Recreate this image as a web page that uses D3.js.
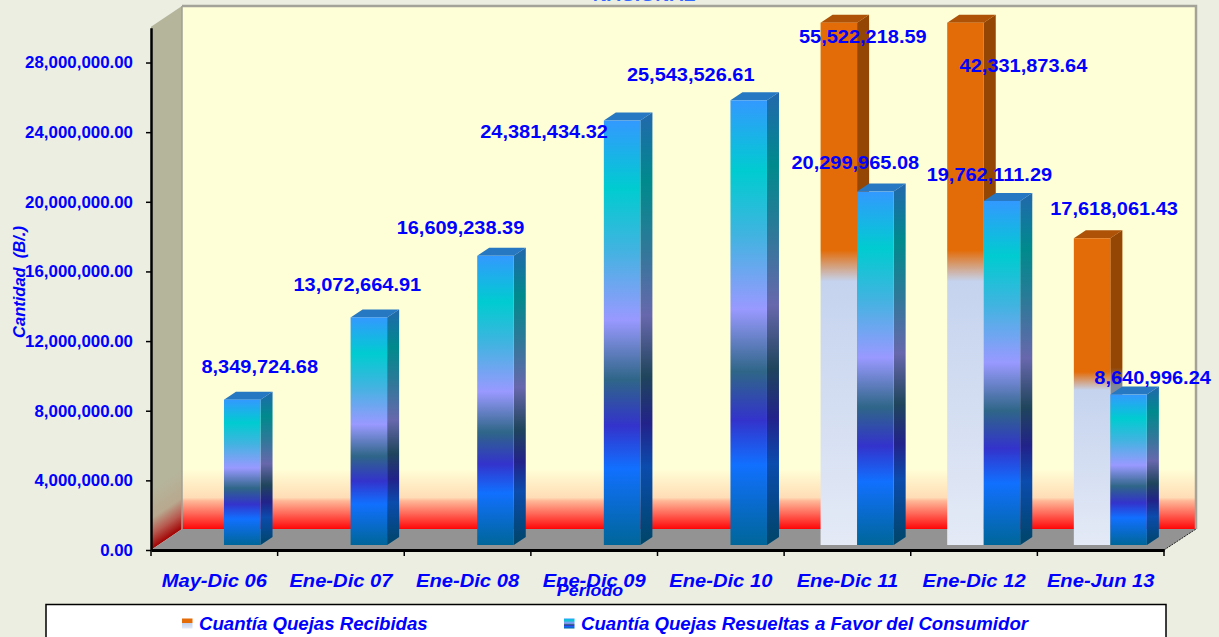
<!DOCTYPE html>
<html>
<head>
<meta charset="utf-8">
<script src="https://cdn.jsdelivr.net/npm/d3@7"></script>
<style>
  html, body { margin: 0; padding: 0; background: #ebeee0; overflow: hidden; }
  text { font-family: "Liberation Sans", Arial, sans-serif; font-weight: bold; fill: #0000ff; }
</style>
</head>
<body>
<script>
// Quejas: cuantia recibida / resuelta por periodo
const periodos = ['May-Dic 06', 'Ene-Dic 07', 'Ene-Dic 08', 'Ene-Dic 09', 'Ene-Dic 10', 'Ene-Dic 11', 'Ene-Dic 12', 'Ene-Jun 13']
const recibidas = [null, null, null, null, null, 55522218.59, 42331873.64, 17618061.43]
const resueltas = [8349724.68, 13072664.91, 16609238.39, 24381434.32, 25543526.61, 20299965.08, 19762111.29, 8640996.24]
const seriesNames = ['Cuantía Quejas Recibidas', 'Cuantía Quejas Resueltas a Favor del Consumidor']
const yTicks = [0, 4e6, 8e6, 12e6, 16e6, 20e6, 24e6, 28e6]

// las etiquetas del original estan colocadas a mano: desplazamiento desde la tapa de cada barra
const recibidasNudge = [null, null, null, null, null, [24, 20], [58, 49], [22, -23]]
const resueltasNudge = [[17.5, -26.6], [-11.5, -26], [-35, -22], [-78, 17.5], [-58, -19], [-20, -22.6], [-12.6, -20], [24, -10.6]]

const width = 1219
const height = 637
const depthX = 31   // profundidad de la caja
const depthY = 21
const barDepthX = 12
const barDepthY = 8
const barLift = 5   // la barra se apoya dentro del piso

const left = 151
const right = 1164
const bottom = 550
const top_ = 27.7

const x = d3.scaleBand().domain(periodos).range([left, right])
const xSub = d3.scaleBand().domain(['recibidas', 'resueltas']).range([0, x.bandwidth()]).paddingInner(0).paddingOuter(0.734).align(0.68)
const y = d3.scaleLinear().domain([0, 30e6]).range([bottom, top_]).clamp(true)

const svg = d3.select('body').append('svg').attr('width', width).attr('height', height).style('display', 'block')
const defs = svg.append('defs')

function gradient (id, stops, attrs) {
  const g = defs.append('linearGradient').attr('id', id)
  Object.entries(attrs || { x1: 0, y1: 0, x2: 0, y2: 1 }).forEach(([k, v]) => g.attr(k, v))
  stops.forEach(s => g.append('stop').attr('offset', s[0]).attr('stop-color', s[1]))
}

const blueStops = [[0, '#3399ff'], [0.16, '#00ccd0'], [0.3, '#3fb4e0'], [0.47, '#9999ff'], [0.61, '#2f6688'], [0.72, '#3333cc'], [0.82, '#1170ff'], [1, '#006699']]
const orangeStops = [[0, '#e36c09'], [0.436, '#e36c09'], [0.495, '#c5d3ee'], [1, '#e4eaf6']]
gradient('blue', blueStops)
gradient('orange', orangeStops)
gradient('wall', [[0, '#ffffd7'], [0.885, '#ffffd7'], [0.94, '#ffddb6'], [0.946, '#ffb898'], [0.97, '#ff6a5a'], [0.998, '#ff0d0d'], [1, '#ff0000']])
gradient('floorless', [[0, '#b5b59c'], [0.885, '#b5b59c'], [0.94, '#b8a88e'], [0.97, '#b85a50'], [1, '#a00000']], {
  gradientUnits: 'userSpaceOnUse', x1: left + depthX, y1: 6, x2: left + depthX + 243, y2: 6 + 358.7
})

// caja 3D
const wallTop = 6
const wallBottom = bottom - depthY
svg.append('rect').attr('x', left + depthX).attr('y', wallTop).attr('width', right - left + 1).attr('height', wallBottom - wallTop)
  .attr('fill', 'url(#wall)').attr('stroke', 'none')
svg.append('path').attr('d', `M${left + depthX},${wallTop}H${right + depthX + 1}V${wallBottom}`)
  .attr('fill', 'none').attr('stroke', '#a3a39a').attr('stroke-width', 2.5)
svg.append('path').attr('d', `M${left},${top_ - 1}L${left + depthX},${wallTop}V${wallBottom}L${left},${bottom}Z`)
  .attr('fill', 'url(#floorless)')
svg.append('line').attr('x1', left + depthX).attr('x2', left + depthX).attr('y1', wallTop).attr('y2', wallBottom)
  .attr('stroke', '#a0a096').attr('stroke-width', 1.5)
svg.append('path').attr('d', `M${left},${bottom}L${left + depthX},${wallBottom}H${right + depthX + 1}L${right},${bottom}Z`)
  .attr('fill', '#939393')
svg.append('line').attr('x1', right).attr('y1', bottom).attr('x2', right + depthX + 1).attr('y2', wallBottom)
  .attr('stroke', '#222').attr('stroke-width', 1).attr('stroke-dasharray', '2 1')

// barras
function drawBars (key, values, fill, topFill, sideShade) {
  const g = svg.append('g').attr('class', key)
  const bars = values.map((v, i) => ({ v, i })).filter(d => d.v !== null)
  const bx = d => x(periodos[d.i]) + xSub(key)
  const bw = xSub.bandwidth()
  const by = d => y(d.v) - barLift
  const base = y(0) - barLift
  // cara lateral
  g.selectAll('path.side').data(bars).enter().append('path').attr('class', 'side')
    .attr('d', d => `M${bx(d) + bw},${by(d)}l${barDepthX},${-barDepthY}V${base - barDepthY}L${bx(d) + bw},${base}Z`)
    .attr('fill', fill)
  g.selectAll('path.shade').data(bars).enter().append('path').attr('class', 'shade')
    .attr('d', d => `M${bx(d) + bw},${by(d)}l${barDepthX},${-barDepthY}V${base - barDepthY}L${bx(d) + bw},${base}Z`)
    .attr('fill', '#000').attr('opacity', sideShade)
  // tapa
  g.selectAll('path.cap').data(bars).enter().append('path').attr('class', 'cap')
    .attr('d', d => `M${bx(d)},${by(d)}l${barDepthX},${-barDepthY}h${bw}l${-barDepthX},${barDepthY}Z`)
    .attr('fill', topFill)
  // frente
  g.selectAll('rect').data(bars).enter().append('rect')
    .attr('x', bx).attr('y', by).attr('width', bw).attr('height', d => base - by(d))
    .attr('fill', fill)
}
drawBars('recibidas', recibidas, 'url(#orange)', '#ad5207', 0.35)
drawBars('resueltas', resueltas, 'url(#blue)', '#2678c2', 0.32)

// ejes
const yAxis = svg.append('g').attr('transform', `translate(${left},0)`)
  .call(d3.axisLeft(y).tickValues(yTicks).tickFormat(d3.format(',.2f')).tickSize(5).tickSizeOuter(0))
yAxis.select('.domain').attr('stroke', '#000').attr('stroke-width', 2.5)
yAxis.selectAll('.tick line').attr('stroke', '#000').attr('stroke-width', 1.5)
yAxis.selectAll('.tick text')
  .attr('x', 0).attr('dy', '0.34em').attr('text-anchor', 'end')
  .attr('font-size', 16).attr('font-family', null)
  .attr('transform', 'translate(-18,0) scale(1.055,1)')

const xAxis = svg.append('g').attr('transform', `translate(0,${bottom})`)
  .call(d3.axisBottom(x).tickSize(0).tickSizeOuter(0))
xAxis.select('.domain').attr('stroke', '#000').attr('stroke-width', 3)
xAxis.selectAll('.tick text')
  .attr('y', 0).attr('dy', 0).attr('text-anchor', 'middle')
  .attr('font-size', 18).attr('font-style', 'italic').attr('font-family', null)
  .attr('transform', 'translate(0,37) scale(1.12,1)')
svg.append('g').selectAll('line').data(x.domain().map(d => x(d)).concat(right)).enter().append('line')
  .attr('x1', d => d).attr('x2', d => d).attr('y1', bottom).attr('y2', bottom + 6)
  .attr('stroke', '#000').attr('stroke-width', 1.5)

// etiquetas de valor
function drawLabels (key, values, nudges) {
  const rows = values.map((v, i) => ({ v, i, n: nudges[i] })).filter(d => d.v !== null)
  svg.append('g').selectAll('text').data(rows).enter().append('text')
    .attr('text-anchor', 'middle').attr('font-size', 18)
    .attr('transform', d => {
      const cx = x(periodos[d.i]) + xSub(key) + xSub.bandwidth() / 2 + d.n[0]
      const cy = y(d.v) - barLift + d.n[1]
      return `translate(${cx},${cy}) scale(1.11,1)`
    })
    .text(d => d3.format(',.2f')(d.v))
}
drawLabels('resueltas', resueltas, resueltasNudge)
drawLabels('recibidas', recibidas, recibidasNudge)

// titulos
svg.append('text').attr('text-anchor', 'middle').attr('font-size', 16.5)
  .attr('transform', 'translate(644,1) scale(1.18,1)').style('fill', '#3366ff').text('NACIONAL')
svg.append('text').attr('text-anchor', 'middle').attr('font-size', 16.5).attr('font-style', 'italic')
  .attr('transform', 'translate(25,282) rotate(-90)').text('Cantidad  (B/.)').style('white-space', 'pre')
svg.append('text').attr('text-anchor', 'middle').attr('font-size', 16.5).attr('font-style', 'italic')
  .attr('transform', 'translate(590,596) scale(1.08,1)').text('Período')

// leyenda
svg.append('rect').attr('x', 46).attr('y', 604.5).attr('width', 1120).attr('height', 50)
  .attr('fill', '#fff').attr('stroke', '#000').attr('stroke-width', 1.5)
const legendX = d3.scaleOrdinal().domain(seriesNames).range([182, 564])
const legend = svg.append('g').selectAll('g').data(seriesNames).enter().append('g')
  .attr('transform', d => `translate(${legendX(d)},0)`)
legend.append('rect').attr('x', 0).attr('y', 618.5).attr('width', 10.5).attr('height', 10)
  .attr('fill', (d, i) => i === 0 ? 'url(#orange)' : 'url(#blue)')
legend.append('text').attr('font-size', 17.5).attr('font-style', 'italic')
  .attr('transform', 'translate(17,630) scale(1.065,1)')
  .text(d => d)
</script>
</body>
</html>
